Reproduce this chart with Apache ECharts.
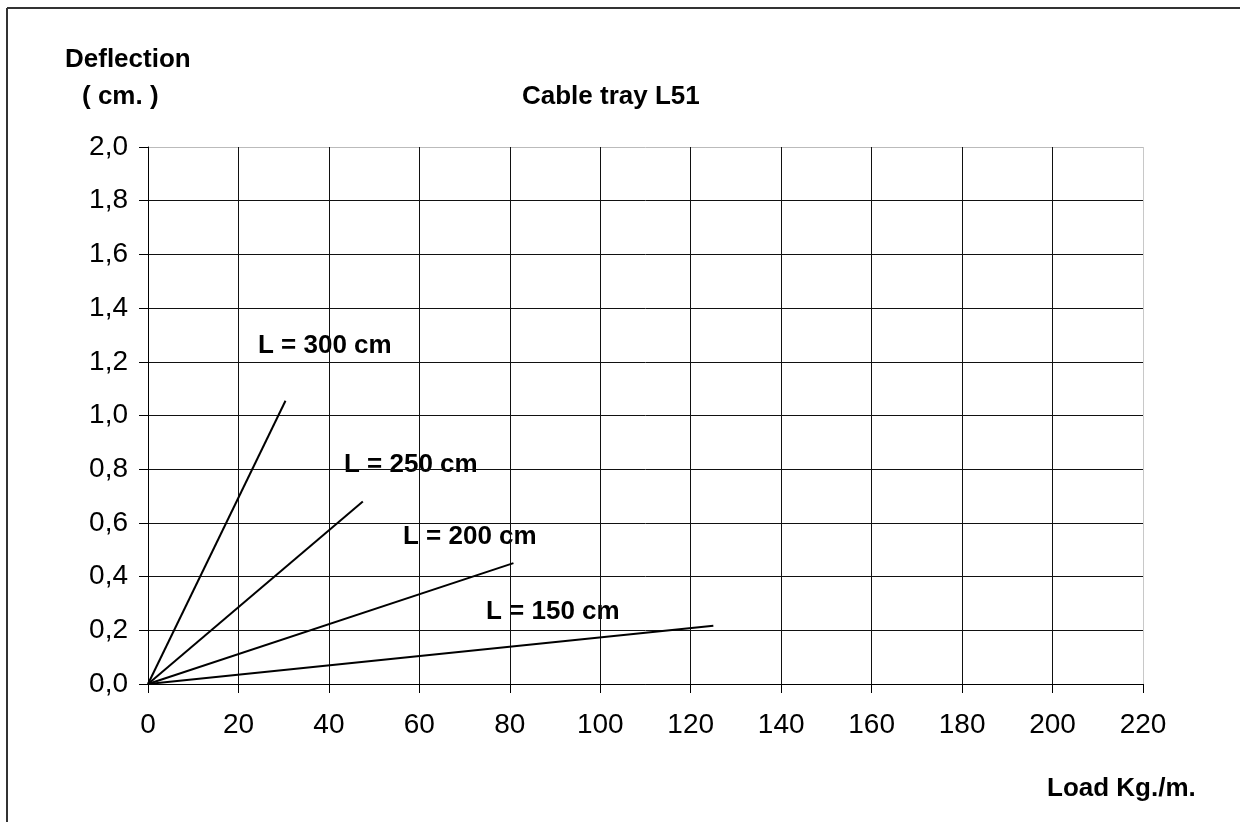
<!DOCTYPE html>
<html>
<head>
<meta charset="utf-8">
<script src="https://cdn.jsdelivr.net/npm/echarts@6/dist/echarts.min.js"></script>
<style>html,body{margin:0;padding:0;background:#fff;}#c{width:1240px;height:822px;}</style>
</head>
<body>
<div id="c"></div>
<script>
var load300 = [0, 30.4], defl300 = [0, 1.055];
var load250 = [0, 47.5], defl250 = [0, 0.68];
var load200 = [0, 80.8], defl200 = [0, 0.45];
var load150 = [0, 125], defl150 = [0, 0.217];
var seriesNames = ['L = 300 cm', 'L = 250 cm', 'L = 200 cm', 'L = 150 cm'];
var yTicks = ['0,0','0,2','0,4','0,6','0,8','1,0','1,2','1,4','1,6','1,8','2,0'];

function pairs(xs, ys) { return xs.map(function (x, i) { return [x, ys[i]]; }); }
var FONT = 'Liberation Sans, Arial, sans-serif';
var chart = echarts.init(document.getElementById('c'));
var ySplitColors = []; for (var i = 0; i < 10; i++) ySplitColors.push('#111'); ySplitColors.push('#bbb');
var xSplitColors = []; for (var j = 0; j < 11; j++) xSplitColors.push('#111'); xSplitColors.push('#c8c8c8');
function mkSeries(name, xs, ys) {
  return { name: name, type: 'line', data: pairs(xs, ys), symbol: 'none', silent: true,
    lineStyle: { color: '#000', width: 2 }, animation: false };
}
function txt(x, y, s, align) {
  return { type: 'text', left: x, top: y - 12, style: { text: s, font: 'bold 26px ' + FONT, fill: '#000', align: align || 'left' } };
}
chart.setOption({
  animation: false,
  grid: { left: 148, right: 97, top: 147, bottom: 138 },
  xAxis: { type: 'value', min: 0, max: 220, interval: 20,
    axisLine: { lineStyle: { color: '#000', width: 1 } },
    axisTick: { show: true, length: 9, lineStyle: { color: '#000' } },
    axisLabel: { color: '#000', fontSize: 28, fontFamily: FONT, margin: 27 },
    splitLine: { show: true, lineStyle: { color: xSplitColors, width: 1 } } },
  yAxis: { type: 'value', min: 0, max: 2, interval: 0.2,
    axisLine: { show: true, lineStyle: { color: '#000', width: 1 } },
    axisTick: { show: true, length: 9, lineStyle: { color: '#000' } },
    axisLabel: { color: '#000', fontSize: 28, fontFamily: FONT, margin: 20,
      formatter: function (v) { return yTicks[Math.round(v / 0.2)]; } },
    splitLine: { show: true, lineStyle: { color: ySplitColors, width: 1 } } },
  series: [
    mkSeries(seriesNames[0], load300, defl300),
    mkSeries(seriesNames[1], load250, defl250),
    mkSeries(seriesNames[2], load200, defl200),
    mkSeries(seriesNames[3], load150, defl150)
  ],
  graphic: [
    { type: 'line', shape: { x1: 7, y1: 8, x2: 1240, y2: 8 }, style: { stroke: '#333', lineWidth: 2 } },
    { type: 'line', shape: { x1: 7, y1: 8, x2: 7, y2: 822 }, style: { stroke: '#333', lineWidth: 2 } },
    txt(65, 59, 'Deflection'),
    txt(82, 96, '( cm. )'),
    txt(522, 96, 'Cable tray L51'),
    txt(1047, 788, 'Load Kg./m.'),
    txt(258, 345, seriesNames[0]),
    txt(344, 464, seriesNames[1]),
    txt(403, 536, seriesNames[2]),
    txt(486, 611, seriesNames[3])
  ]
});
</script>
</body>
</html>
